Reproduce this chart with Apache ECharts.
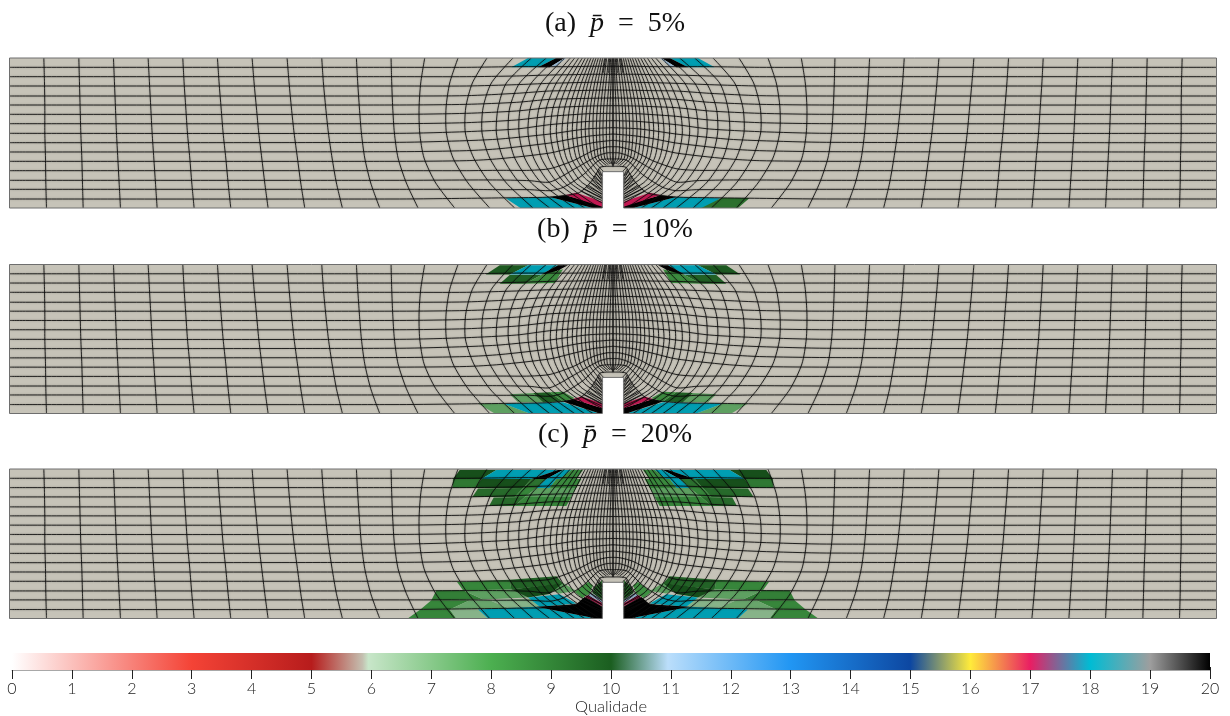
<!DOCTYPE html>
<html>
<head>
<meta charset="utf-8" />
<title>Qualidade</title>
<script src="https://cdn.jsdelivr.net/npm/echarts@6/dist/echarts.min.js"></script>
<style>
html, body { margin: 0; padding: 0; background: #fff; }
#main { width: 1230px; height: 716px; }
</style>
</head>
<body>
<div id="main"></div>
<script type="text/javascript">
// mesh units: x from the centre of the notch, y from the bottom edge (left half, right half is mirrored)
var titles = ['(a)  {i|p̄}  =  5%', '(b)  {i|p̄}  =  10%', '(c)  {i|p̄}  =  20%'];
var outline = [[-1811,0],[-32,0],[-32,109],[32,109],[32,0],[1811,0],[1811,450],[-1811,450]];

// x of each vertical line at these heights
var levels = [450,375,300,225,150,75,0];
var straightLines = [
  [-1708,-1706,-1705,-1705,-1703,-1702,-1700],
  [-1603,-1601,-1599,-1597,-1594,-1592,-1590],
  [-1499,-1496,-1493,-1490,-1486,-1482,-1478],
  [-1395,-1391,-1387,-1383,-1378,-1373,-1368],
  [-1291,-1287,-1282,-1277,-1270,-1264,-1257],
  [-1187,-1182,-1176,-1170,-1162,-1155,-1147],
  [-1083,-1077,-1070,-1063,-1054,-1045,-1035],
  [-978,-972,-965,-957,-947,-937,-925],
  [-874,-869,-862,-854,-843,-830,-812],
  [-770,-766,-761,-755,-745,-727,-700],
  [-666,-664,-661,-656,-645,-620,-585],
  [-565,-577,-582,-580,-567,-532,-475],
  [-465,-490,-501,-500,-480,-435,-370],
  [-378,-422,-442,-443,-418,-370,-295],
  [-300,-365,-390,-393,-370,-320,-240],
  [-245,-320,-345,-350,-330,-280,-190],
  [-200,-280,-310,-314,-295,-245,-150],
  [-170,-245,-278,-282,-265,-215,-115],
  [-145,-215,-248,-255,-238,-190,-85],
  [-128,-190,-222,-230,-215,-165,-60],
  [-115,-170,-200,-208,-193,-145,-40]
];
// lines that stop on the notch: x at the first five levels, then free end points
var innerLines = [
  [[-103,-150,-180,-188,-173],[-128,75],[-32,15]],
  [[-92,-135,-162,-170,-155],[-112,75],[-32,30]],
  [[-83,-120,-145,-153,-140],[-97,80],[-32,42]],
  [[-74,-107,-130,-137,-125],[-85,90],[-32,54]],
  [[-66,-95,-116,-122,-110],[-73,95],[-32,64]],
  [[-58,-84,-103,-109,-98],[-64,100],[-32,74]],
  [[-51,-75,-91,-95,-85],[-55,106],[-32,84]],
  [[-44,-65,-79,-83,-73],[-46,112],[-32,95]],
  [[-37,-55,-68,-72,-62],[-37,118],[-28,109]],
  [[-31,-46,-58,-60,-52],[-28,124]],
  [[-25,-37,-47,-50,-43],[-20,128]],
  [[-19,-29,-37,-40,-34],[-14,130]],
  [[-13,-21,-28,-30,-25],[-9,132]],
  [[-7,-12,-18,-20,-17],[-5,132]],
  [[-3,-6,-9,-10,-8],[-2,130]],
  [[0,0,0,0,0],[0,125]]
];
// short lines between the innermost row and the notch wall
var wallHatch = [
  [[-95,50],[-32,22]],
  [[-88,57],[-32,28]],
  [[-80,63],[-32,34]],
  [[-74,69],[-32,40]],
  [[-68,76],[-32,47]],
  [[-63,83],[-32,54]],
  [[-58,90],[-32,61]],
  [[-54,97],[-32,69]],
  [[-50,104],[-32,77]],
  [[-46,110],[-32,86]],
  [[-42,116],[-32,96]]
];
// extra lines that crowd the top of the centre
var topHatch = [
  [[-10,450],[-13,405]],
  [[-22,450],[-30,405]]
];
// horizontal lines, left edge to centre
var rows = [
  [[-1811,422],[-640,422],[-440,422],[-290,424],[-190,424],[-120,424],[-70,425],[0,425]],
  [[-1811,394],[-640,394],[-440,394],[-290,396],[-190,399],[-120,400],[-70,401],[0,401]],
  [[-1811,366],[-640,366],[-440,366],[-290,370],[-190,374],[-120,376],[-70,377],[0,377]],
  [[-1811,336],[-640,336],[-440,337],[-290,344],[-190,351],[-120,352],[-70,353],[0,354]],
  [[-1811,309],[-640,309],[-440,311],[-290,317],[-190,326],[-120,328],[-70,329],[0,330]],
  [[-1811,281],[-640,281],[-440,284],[-290,291],[-190,301],[-120,304],[-70,306],[0,307]],
  [[-1811,253],[-640,253],[-440,256],[-290,264],[-190,275],[-120,280],[-70,283],[0,284]],
  [[-1811,224],[-640,224],[-440,229],[-290,237],[-190,250],[-120,256],[-70,260],[0,262]],
  [[-1811,196],[-640,197],[-440,202],[-339,207],[-189,222],[-120,232],[-70,238],[0,241]],
  [[-1811,168],[-640,169],[-440,172],[-339,178],[-189,195],[-120,208],[-70,216],[0,222]],
  [[-1811,140],[-640,140],[-440,142],[-339,148],[-189,165],[-119,182],[-60,196],[-20,201],[0,203]],
  [[-1811,112],[-640,112],[-440,112],[-339,113],[-250,113],[-189,118],[-119,142],[-60,172],[-20,183],[0,184]],
  [[-1811,83],[-640,83],[-440,84],[-339,84],[-250,82],[-189,78],[-119,115],[-49,155],[-20,165],[0,166]],
  [[-1811,56],[-640,56],[-440,56],[-339,55],[-250,55],[-189,52],[-149,62],[-89,100],[-44,142],[-20,147],[0,147]],
  [[-1811,27],[-640,27],[-440,29],[-290,31],[-190,33],[-104,45],[-69,75],[-49,105],[-39,122],[-20,125],[0,125]]
];

// coloured cells: [quality, polygon], left side, mirrored to the right
var cellsA = [
  [18,[[-305,422],[-255,450],[-170,450],[-225,422]]],
  [20,[[-225,422],[-170,450],[-145,450],[-190,422]]],
  [11,[[-190,422],[-145,450],[-140,450],[-170,425]]],
  [18,[[-322,29],[-190,33],[-60,0],[-278,0]]],
  [20,[[-190,33],[-143,38],[-34,9],[-32,0],[-60,0]]],
  [17,[[-143,39],[-110,46],[-32,19],[-32,4]]]
];
var cellsARight = [
  [9,[[265,0],[325,30],[410,30],[375,0]]]
];
var cellsB = [
  [9.7,[[-382,420],[-340,448],[-255,448],[-310,420]]],
  [18,[[-310,420],[-255,448],[-165,448],[-215,420]]],
  [20,[[-215,420],[-165,448],[-135,448],[-185,422]]],
  [9.5,[[-340,392],[-310,418],[-215,418],[-265,392]]],
  [8.2,[[-265,392],[-215,418],[-150,436],[-175,394]]],
  [7.4,[[-405,30],[-330,30],[-250,0],[-355,0]]],
  [18,[[-330,30],[-150,34],[-40,0],[-250,0]]],
  [7.4,[[-310,58],[-240,62],[-210,34],[-285,34]]],
  [9.5,[[-240,62],[-190,64],[-150,36],[-210,34]]],
  [8.2,[[-190,64],[-150,66],[-115,46],[-150,36]]],
  [20,[[-150,36],[-120,44],[-32,16],[-32,0],[-40,0]]],
  [17,[[-120,44],[-95,51],[-32,30],[-32,16]]]
];
var cellsC = [
  [10,[[-480,420],[-460,447],[-350,447],[-395,420]]],
  [18,[[-395,420],[-350,447],[-165,447],[-245,420]]],
  [20,[[-245,420],[-165,447],[-150,447],[-200,420]]],
  [18,[[-200,420],[-150,447],[-125,447],[-160,420]]],
  [8.2,[[-160,420],[-125,447],[-90,447],[-110,420]]],
  [8.8,[[-482,393],[-480,420],[-395,420],[-415,393]]],
  [10,[[-415,393],[-395,420],[-245,420],[-270,393]]],
  [9,[[-270,393],[-245,420],[-200,420],[-230,393]]],
  [18,[[-230,393],[-200,420],[-170,420],[-190,393]]],
  [8.2,[[-190,393],[-170,420],[-95,420],[-110,393]]],
  [9.2,[[-422,366],[-405,391],[-270,393],[-295,366]]],
  [8.4,[[-295,366],[-270,393],[-230,393],[-265,366]]],
  [7.4,[[-265,366],[-230,393],[-110,393],[-125,366]]],
  [9.2,[[-372,339],[-358,364],[-265,366],[-295,339]]],
  [8.4,[[-295,339],[-265,366],[-125,366],[-140,339]]],
  [8.4,[[-468,110],[-310,117],[-305,87],[-450,85]]],
  [9.4,[[-310,117],[-170,127],[-150,105],[-305,87]]],
  [7.4,[[-210,95],[-150,107],[-110,83],[-160,75]]],
  [8.6,[[-530,85],[-450,85],[-390,57],[-545,55]]],
  [7.4,[[-450,85],[-305,87],[-255,63],[-390,57]]],
  [10,[[-305,87],[-150,107],[-190,74],[-255,63]]],
  [8.4,[[-578,27],[-545,55],[-430,55],[-490,27]]],
  [7.2,[[-490,27],[-430,55],[-370,55],[-310,29]]],
  [6.6,[[-310,30],[-370,55],[-250,60],[-220,35]]],
  [18,[[-255,63],[-160,73],[-110,45],[-220,35]]],
  [8.4,[[-616,0],[-578,27],[-490,27],[-470,0]]],
  [6.6,[[-470,0],[-490,27],[-405,27],[-375,0]]],
  [18,[[-405,27],[-230,35],[-50,0],[-375,0]]],
  [20,[[-230,35],[-110,43],[-85,65],[-32,35],[-32,0],[-50,0]]],
  [17,[[-85,65],[-75,70],[-32,47],[-32,37]]],
  [11,[[-75,70],[-65,77],[-32,57],[-32,47]]],
  [8,[[-115,80],[-75,110],[-60,100],[-70,75],[-92,62]]],
  [9,[[-55,95],[-32,115],[-32,57],[-62,77]]]
];

// colour scale of the bar
var scaleValues = [0,3,5,5.85,5.95,8,10,10.95,13,15,16,17,18,19,20];
var scaleColors = ['#ffffff','#f44336','#b71c1c','#c4bfb0','#c8e6c9','#4caf50','#1b5e20','#bbdefb','#2196f3','#0d47a1','#ffeb3b','#e91e63','#00bcd4','#9e9e9e','#000000'];
var barTicks = [0,20];

var meshColor = '#c6c3b8';
var panelTop = [58,264.5,469];
var panelHeight = [150,149,149.5];
var titleTop = [5,211,416];

function qualityColor(q) {
    var i = 0;
    while (i < scaleValues.length - 2 && q > scaleValues[i + 1]) i++;
    var t = (q - scaleValues[i]) / (scaleValues[i + 1] - scaleValues[i]);
    var c = echarts.color.parse(echarts.color.lerp(t, [scaleColors[i], scaleColors[i + 1]]));
    // the mesh is lit, so the cells are a bit darker than the bar
    return 'rgb(' + Math.round(c[0] * 0.84) + ',' + Math.round(c[1] * 0.84) + ',' + Math.round(c[2] * 0.84) + ')';
}

function mirror(points) {
    return points.map(function (p) { return [-p[0], p[1]]; });
}

// all mesh lines as point lists
var meshLines = [];
straightLines.forEach(function (xs) {
    meshLines.push(xs.map(function (x, i) { return [x, levels[i]]; }));
});
innerLines.forEach(function (l) {
    var pts = l[0].map(function (x, i) { return [x, levels[i]]; });
    meshLines.push(pts.concat(l.slice(1)));
});
meshLines = meshLines.concat(rows, wallHatch, topHatch);
meshLines = meshLines.concat(meshLines.map(mirror));

function polygonSeries(idx, cells) {
    return {
        type: 'custom', xAxisIndex: idx, yAxisIndex: idx, silent: true, clip: true,
        data: cells.map(function (c, i) { return [i]; }),
        renderItem: function (params, api) {
            var c = cells[params.dataIndex];
            return {
                type: 'polygon',
                shape: { points: c[1].map(function (p) { return api.coord(p); }) },
                style: { fill: qualityColor(c[0]), stroke: null }
            };
        }
    };
}

var grid = [], xAxis = [], yAxis = [], series = [], title = [];
var panelCells = [
    cellsA.concat(cellsA.map(function (c) { return [c[0], mirror(c[1])]; }), cellsARight),
    cellsB.concat(cellsB.map(function (c) { return [c[0], mirror(c[1])]; })),
    cellsC.concat(cellsC.map(function (c) { return [c[0], mirror(c[1])]; }))
];

panelTop.forEach(function (top, k) {
    grid.push({ left: 9.5, width: 1207, top: top, height: panelHeight[k] });
    xAxis.push({ type: 'value', gridIndex: k, min: -1811, max: 1811, show: false });
    yAxis.push({ type: 'value', gridIndex: k, min: 0, max: 450, show: false });
    title.push({
        text: titles[k], left: 'center', top: titleTop[k],
        textStyle: {
            fontFamily: 'Liberation Serif', fontSize: 28, fontWeight: 'normal', color: '#111',
            rich: { i: { fontFamily: 'Liberation Serif', fontStyle: 'italic', fontSize: 28, color: '#111' } }
        }
    });
    series.push({
        type: 'custom', xAxisIndex: k, yAxisIndex: k, silent: true, clip: false, data: [[0]],
        renderItem: function (params, api) {
            return {
                type: 'polygon',
                shape: { points: outline.map(function (p) { return api.coord(p); }) },
                style: { fill: meshColor, stroke: null }
            };
        }
    });
    series.push(polygonSeries(k, panelCells[k]));
    series.push({
        type: 'custom', xAxisIndex: k, yAxisIndex: k, silent: true, clip: true,
        data: meshLines.map(function (l, i) { return [i]; }),
        renderItem: function (params, api) {
            return {
                type: 'polyline',
                shape: { points: meshLines[params.dataIndex].map(function (p) { return api.coord(p); }), smooth: 0.25 },
                style: { fill: null, stroke: 'rgba(10,10,10,0.85)', lineWidth: 1, shadowBlur: 2, shadowColor: 'rgba(0,0,0,0.35)' }
            };
        }
    });
    series.push({
        type: 'custom', xAxisIndex: k, yAxisIndex: k, silent: true, clip: false, data: [[0]],
        renderItem: function (params, api) {
            return {
                type: 'polygon',
                shape: { points: outline.map(function (p) { return api.coord(p); }) },
                style: { fill: null, stroke: '#6e6e6e', lineWidth: 1 }
            };
        }
    });
});

// colour bar
grid.push({ left: 12, width: 1198, top: 653, height: 18.5 });
xAxis.push({
    type: 'value', gridIndex: 3, min: 0, max: 20, interval: 1,
    axisLine: { show: true, lineStyle: { color: '#a8a8a8', width: 1 } },
    axisTick: { show: true, length: 9, lineStyle: { color: '#222', width: 1 } },
    axisLabel: { show: true, margin: 11, fontFamily: 'Lato', fontWeight: 300, fontSize: 16, color: '#222', showMinLabel: true, showMaxLabel: true },
    splitLine: { show: false },
    name: 'Qualidade', nameLocation: 'middle', nameGap: 28,
    nameTextStyle: { fontFamily: 'Lato', fontWeight: 300, fontSize: 16.5, color: '#222' }
});
xAxis.push({
    type: 'value', gridIndex: 3, min: 0, max: 20, interval: 1, position: 'bottom',
    axisLine: { show: false },
    axisTick: { show: true, inside: true, length: 3, lineStyle: { color: '#222', width: 1 } },
    axisLabel: { show: false }, splitLine: { show: false }
});
yAxis.push({ type: 'value', gridIndex: 3, min: 0, max: 1, show: false });
series.push({
    type: 'custom', xAxisIndex: 3, yAxisIndex: 3, silent: true, clip: false,
    data: [barTicks],
    renderItem: function (params, api) {
        var a = api.coord([api.value(0), 0]);
        var b = api.coord([api.value(1), 1]);
        return {
            type: 'rect',
            shape: { x: a[0], y: b[1], width: b[0] - a[0], height: a[1] - b[1] },
            style: {
                fill: new echarts.graphic.LinearGradient(0, 0, 1, 0, scaleValues.map(function (v, i) {
                    return { offset: v / 20, color: scaleColors[i] };
                }))
            }
        };
    }
});

var myChart = echarts.init(document.getElementById('main'));
myChart.setOption({
    animation: false,
    backgroundColor: '#fff',
    title: title,
    grid: grid,
    xAxis: xAxis,
    yAxis: yAxis,
    series: series
});
</script>
</body>
</html>
